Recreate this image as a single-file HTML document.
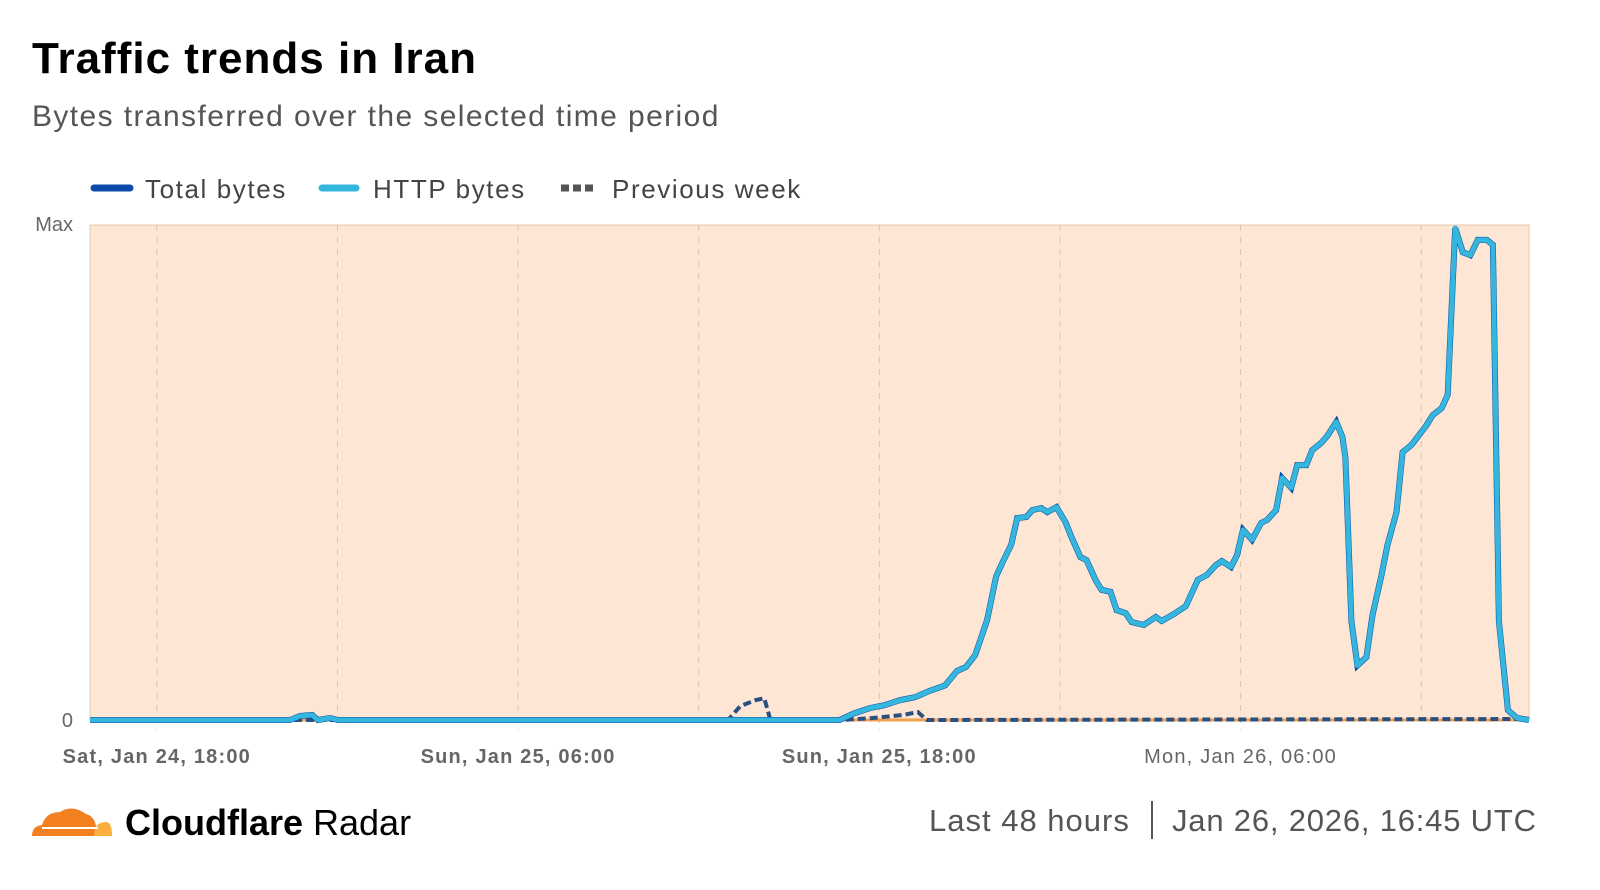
<!DOCTYPE html>
<html><head><meta charset="utf-8"><style>
body{margin:0;width:1600px;height:890px;background:#fff;font-family:"Liberation Sans",sans-serif;position:relative;overflow:hidden}
.t{position:absolute;white-space:nowrap}
</style></head><body>
<div class="t" style="left:32px;top:34px;font-size:44px;font-weight:bold;color:#000;letter-spacing:1px">Traffic trends in Iran</div>
<div class="t" style="left:32px;top:100px;font-size:30px;color:#555;letter-spacing:1.4px">Bytes transferred over the selected time period</div>
<svg width="1600" height="890" style="position:absolute;left:0;top:0" id="chart">
 <g>
  <g><line x1="94" y1="188" x2="130" y2="188" stroke="#0a4ba8" stroke-width="7" stroke-linecap="round"/><text x="145" y="198" font-size="26" fill="#444" letter-spacing="1.6">Total bytes</text></g>
  <g><line x1="322" y1="188" x2="356" y2="188" stroke="#35b6dc" stroke-width="7" stroke-linecap="round"/><text x="373" y="198" font-size="26" fill="#444" letter-spacing="1.6">HTTP bytes</text></g>
  <g><line x1="561" y1="188" x2="597" y2="188" stroke="#555" stroke-width="7" stroke-dasharray="8,4"/><text x="612" y="198" font-size="26" fill="#444" letter-spacing="1.6">Previous week</text></g>
 </g>
 <rect x="90" y="225" width="1439" height="495" fill="#fde7d4" stroke="#e6c7ae"/>
 <text x="73" y="231" font-size="20" fill="#666" text-anchor="end">Max</text>
 <text x="73" y="727" font-size="20" fill="#666" text-anchor="end">0</text>
 <g id="grid"></g><g id="series"></g>
</svg>
<svg width="90" height="50" style="position:absolute;left:28px;top:798px">
 <path d="M4 38 Q4 28 14 27 Q18 14 32 14 Q44 6 58 16 Q66 18 68 28 L72 38 Z" fill="#f38020"/>
 <path d="M66 38 Q66 24 78 24 Q84 24 84 38 Z" fill="#faae40"/>
 <line x1="14" y1="30" x2="70" y2="30" stroke="#fff" stroke-width="2"/>
</svg>
<div class="t" style="left:125px;top:802px;font-size:36px;color:#000"><b>Cloudflare</b> Radar</div>
<div class="t" style="left:929px;top:803px;font-size:31px;color:#555;letter-spacing:1px">Last 48 hours</div>
<div class="t" style="left:1151px;top:801px;width:2px;height:38px;background:#555"></div>
<div class="t" style="left:1172px;top:803px;font-size:31px;color:#555;letter-spacing:0.8px">Jan 26, 2026, 16:45 UTC</div>
<script>
const tickHours=[2.22,8.22,14.22,20.22,26.22,32.22,38.22,44.22];
const tickLabels=["Sat, Jan 24, 18:00","","Sun, Jan 25, 06:00","","Sun, Jan 25, 18:00","","Mon, Jan 26, 06:00",""];
const tickBold=[true,false,true,false,true,false,false,false];
const httpHours=[0,6.64,6.98,7.38,7.57,7.97,8.24,12,16,20,24.9,25.4,25.9,26.4,26.9,27.4,27.9,28.4,28.8,29.1,29.4,29.6,29.8,30.1,30.3,30.6,30.8,31.1,31.3,31.6,31.8,32.1,32.4,32.6,32.9,33.1,33.4,33.6,33.9,34.1,34.4,34.6,35.0,35.4,35.6,36.0,36.4,36.8,37.1,37.4,37.6,37.9,38.1,38.3,38.6,38.9,39.1,39.4,39.6,39.9,40.1,40.4,40.6,40.9,41.1,41.4,41.6,41.7,41.9,42.1,42.4,42.6,42.9,43.1,43.4,43.6,43.9,44.1,44.4,44.6,44.9,45.1,45.35,45.6,45.85,46.1,46.4,46.6,46.8,47.1,47.4,47.8];
const httpValues=[0,0,0.8,1,0,0.4,0,0,0,0,0,1.4,2.4,3,4,4.6,5.9,7,9.9,10.7,13.1,16.6,20.2,29,31.7,35.4,40.8,41,42.4,42.8,42,43,40,37,32.9,32.3,28.3,26.3,25.9,22.2,21.6,19.8,19.2,20.8,20,21.4,23,28.3,29.3,31.3,32.1,30.9,33.3,38.4,36.4,39.8,40.4,42.4,48.9,46.9,51.5,51.5,54.5,56,57.4,60.2,57.2,53,20,11,12.7,21.2,29.3,35.4,42,54.1,55.6,57.2,59.6,61.6,63,65.7,99.4,94.5,93.9,97,97,96,20,2,0.4,0];
const prevHours=[0,21.2,21.6,22.1,22.4,22.6,25.0,26.0,27.0,27.5,27.8,47.8];
const prevValues=[0,0,2.8,4,4.4,0,0,0.4,1,1.6,0,0.2];
const X0=90,X1=1529,Y0=720,Y1=225,H=47.8;
const xs=h=>X0+(X1-X0)*h/H, ys=v=>Y0-(Y0-Y1)*v/100;
const NS="http://www.w3.org/2000/svg";
const grid=document.getElementById('grid'),ser=document.getElementById('series');
tickHours.forEach((h,i)=>{
 const l=document.createElementNS(NS,'line');
 l.setAttribute('x1',xs(h));l.setAttribute('x2',xs(h));l.setAttribute('y1',Y1);l.setAttribute('y2',tickLabels[i]?Y0+10:Y0);
 l.setAttribute('stroke','#dcc3b0');l.setAttribute('stroke-dasharray','6,6');
 
 
 grid.appendChild(l);
 if(tickLabels[i]){
  const t=document.createElementNS(NS,'text');
  t.setAttribute('x',xs(h));t.setAttribute('y',763);t.setAttribute('text-anchor','middle');
  t.setAttribute('font-size','20');t.setAttribute('fill','#666');t.setAttribute('letter-spacing','1.2');
  if(tickBold[i])t.setAttribute('font-weight','bold');
  t.textContent=tickLabels[i];
  
  
  grid.appendChild(t);
 }
});
function pts(hs,vs){return hs.map((h,i)=>xs(h).toFixed(1)+','+ys(vs[i]).toFixed(1)).join(' ');}
const base=document.createElementNS(NS,'line');
base.setAttribute('x1',X0);base.setAttribute('x2',X1);base.setAttribute('y1',Y0);base.setAttribute('y2',Y0);
base.setAttribute('stroke','#f0a050');base.setAttribute('stroke-width','3');


ser.appendChild(base);
const pw=document.createElementNS(NS,'polyline');
pw.setAttribute('points',pts(prevHours,prevValues));pw.setAttribute('fill','none');
pw.setAttribute('stroke','#2a4f80');pw.setAttribute('stroke-width','4');pw.setAttribute('stroke-dasharray','8,4');


ser.appendChild(pw);
const tb=document.createElementNS(NS,'polyline');
tb.setAttribute('points',pts(httpHours,httpValues));tb.setAttribute('fill','none');
tb.setAttribute('stroke','#0a4ba8');tb.setAttribute('stroke-width','6');


ser.appendChild(tb);
const hp=document.createElementNS(NS,'polyline');
hp.setAttribute('points',pts(httpHours,httpValues));hp.setAttribute('fill','none');
hp.setAttribute('stroke','#35b6dc');hp.setAttribute('stroke-width','5');hp.setAttribute('stroke-linejoin','round');


ser.appendChild(hp);
</script>
</body></html>
